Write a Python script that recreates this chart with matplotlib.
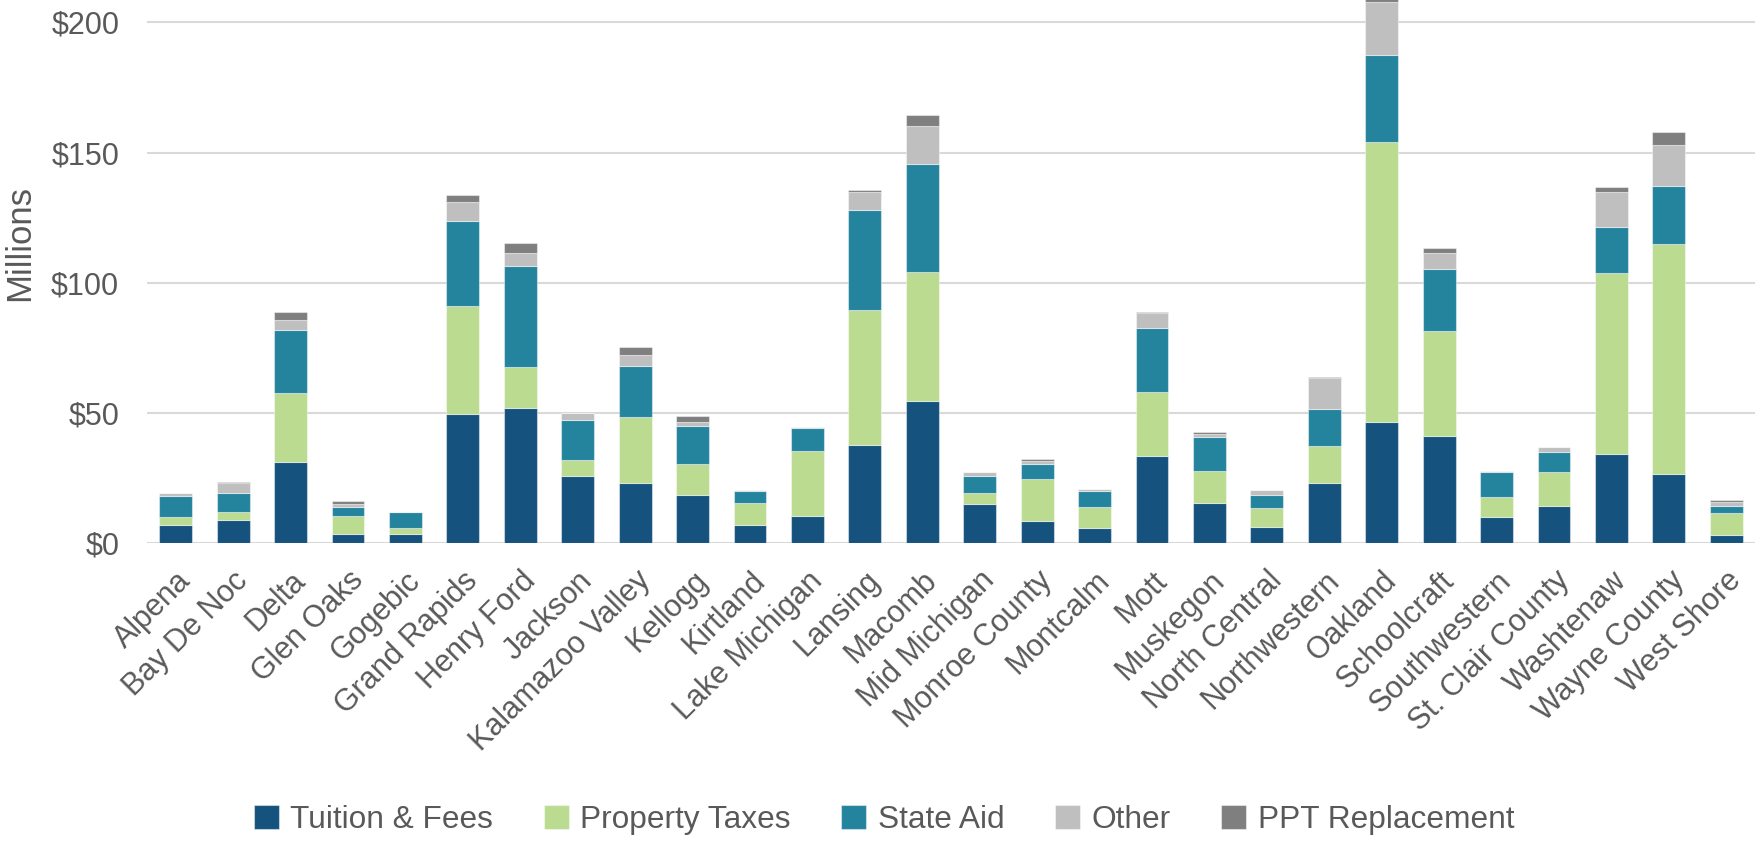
import numpy as np
import matplotlib
matplotlib.use('Agg')
from matplotlib import pyplot as plt

colleges = ['Alpena', 'Bay De Noc', 'Delta', 'Glen Oaks', 'Gogebic',
            'Grand Rapids', 'Henry Ford', 'Jackson', 'Kalamazoo Valley',
            'Kellogg', 'Kirtland', 'Lake Michigan', 'Lansing', 'Macomb',
            'Mid Michigan', 'Monroe County', 'Montcalm', 'Mott', 'Muskegon',
            'North Central', 'Northwestern', 'Oakland', 'Schoolcraft',
            'Southwestern', 'St. Clair County', 'Washtenaw', 'Wayne County',
            'West Shore']

# millions of dollars
tuition = [6.9, 8.8, 31.2, 3.7, 3.7, 49.7, 51.9, 25.7, 23.3, 18.4, 6.9, 10.3,
           37.7, 54.6, 15.0, 8.4, 5.8, 33.7, 15.6, 6.3, 23.3, 46.7, 41.3, 10.2,
           14.2, 34.4, 26.5, 3.3]
property_taxes = [3.3, 3.3, 26.6, 6.9, 2.1, 41.5, 15.8, 6.4, 25.3, 12.2, 8.7,
                  25.1, 51.8, 49.4, 4.5, 16.2, 8.2, 24.3, 12.3, 7.4, 13.9,
                  107.5, 40.3, 7.4, 13.0, 69.2, 88.6, 8.2]
state_aid = [7.9, 7.4, 24.1, 3.4, 6.1, 32.4, 38.6, 15.2, 19.3, 14.3, 4.3, 8.9,
             38.4, 41.8, 6.2, 5.9, 6.2, 24.6, 13.1, 5.0, 14.2, 33.2, 23.7, 9.6,
             7.8, 17.8, 21.9, 2.9]
other = [1.4, 3.8, 3.7, 1.0, 0.3, 7.4, 5.0, 2.7, 4.4, 1.5, 0.7, 0.4, 7.0, 14.3,
         1.5, 1.1, 0.5, 5.8, 1.1, 1.6, 12.0, 20.4, 6.1, 0.7, 1.8, 13.6, 15.8,
         1.4]
ppt_replacement = [0.0, 0.3, 3.2, 1.2, 0.0, 2.7, 3.9, 0.0, 3.0, 2.3, 0.0, 0.0,
                   0.9, 4.4, 0.0, 0.7, 0.0, 0.4, 0.7, 0.3, 0.3, 1.5, 1.9, 0.0,
                   0.0, 1.8, 5.2, 0.8]

series = [('Tuition & Fees', tuition, '#16527e'),
          ('Property Taxes', property_taxes, '#bbdb91'),
          ('State Aid', state_aid, '#25849d'),
          ('Other', other, '#bfbfbf'),
          ('PPT Replacement', ppt_replacement, '#7f7f7f')]

plt.rcParams['font.family'] = ['Liberation Sans', 'DejaVu Sans']
txt = '#595959'

fig = plt.figure(figsize=(17.55, 8.44), dpi=100)
ax = fig.add_axes([147 / 1755, 300.7 / 844, 1 - 147 / 1755, 543.3 / 844])

x = np.arange(len(colleges))
bottom = np.zeros(len(colleges))
for name, vals, col in series:
    vals = np.array(vals)
    ax.bar(x, vals, 0.57, bottom=bottom, color=col, label=name,
           edgecolor=(1, 1, 1, 0.45), linewidth=0.8, zorder=3)
    bottom += vals

ax.set_xlim(-0.5, len(colleges) - 0.5)
ax.set_ylim(0, 208.6)
ax.set_yticks([0, 50, 100, 150, 200])
ax.set_yticklabels(['$0', '$50', '$100', '$150', '$200'])
ax.yaxis.grid(True, color='#d9d9d9', linewidth=1.5, zorder=0)
ax.set_axisbelow(True)
for s in ax.spines.values():
    s.set_visible(False)
ax.tick_params(axis='both', length=0, labelcolor=txt)
ax.tick_params(axis='y', pad=20, labelsize=22)
ax.set_xticks(x)
ax.set_xticklabels(colleges, rotation=45, ha='right', rotation_mode='anchor')
ax.tick_params(axis='x', pad=16, labelsize=22)

fig.text(20 / 1755, 1 - 243 / 844, 'Millions', rotation=90, fontsize=25,
         color=txt, ha='center', va='center')

leg = fig.legend(loc='center', bbox_to_anchor=(884 / 1755, 24 / 844), ncol=5,
                 frameon=False, fontsize=22.8, handlelength=0.79,
                 handleheight=0.79, handletextpad=0.36, columnspacing=1.6)
for t in leg.get_texts():
    t.set_color(txt)

plt.savefig('out.png', dpi=100)
